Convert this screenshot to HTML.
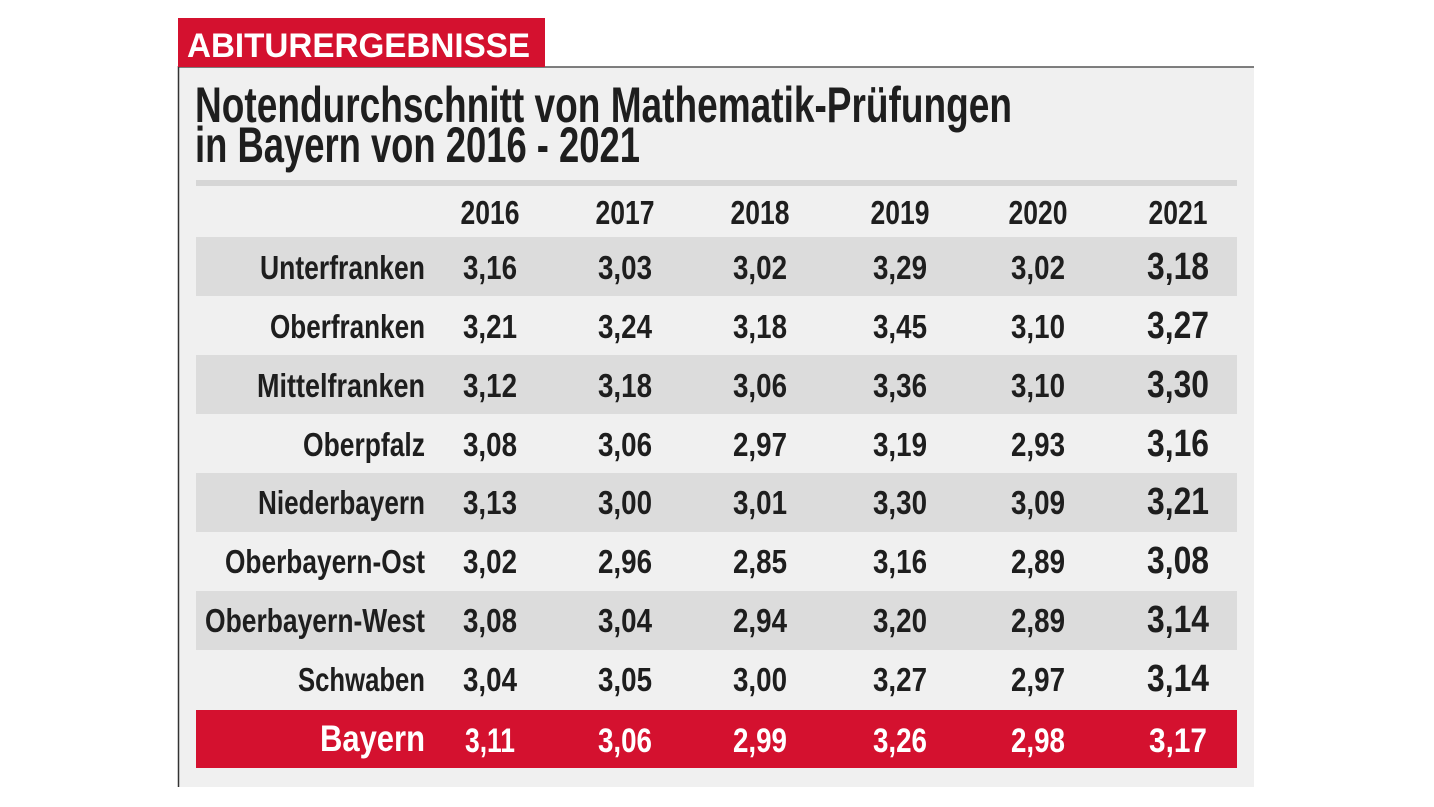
<!DOCTYPE html>
<html><head><meta charset="utf-8"><style>
html,body{margin:0;padding:0;background:#fff;}
svg{display:block;font-family:"Liberation Sans",sans-serif;font-weight:bold;}
</style></head><body>
<svg width="1434" height="807" viewBox="0 0 1434 807" xmlns="http://www.w3.org/2000/svg">
<rect x="178" y="67" width="1076" height="720" fill="#f0f0f0"/>
<line x1="178" y1="67" x2="1254" y2="67" stroke="#555" stroke-width="1.5"/>
<line x1="178.5" y1="66" x2="178.5" y2="787" stroke="#333" stroke-width="1.5"/>
<rect x="178" y="18" width="367" height="49" fill="#d4112f"/>
<text x="187" y="57" fill="#fff" font-size="34" textLength="343" lengthAdjust="spacingAndGlyphs">ABITURERGEBNISSE</text>
<g fill="#1e1e1e" font-size="50">
<text x="195" y="122" textLength="817" lengthAdjust="spacingAndGlyphs">Notendurchschnitt von Mathematik-Prüfungen</text>
<text x="195" y="162" textLength="445" lengthAdjust="spacingAndGlyphs">in Bayern von 2016 - 2021</text>
</g>
<rect x="196" y="180" width="1041" height="6" fill="#d6d6d6"/>
<g fill="#dcdcdc">
<rect x="196" y="237" width="1041" height="59"/>
<rect x="196" y="355" width="1041" height="59"/>
<rect x="196" y="473" width="1041" height="59"/>
<rect x="196" y="591" width="1041" height="59"/>
</g>
<rect x="196" y="710" width="1041" height="58" fill="#d4112f"/>
<g fill="#1e1e1e" font-size="33" text-anchor="middle">
<text x="490" y="224" textLength="59" lengthAdjust="spacingAndGlyphs">2016</text>
<text x="625" y="224" textLength="59" lengthAdjust="spacingAndGlyphs">2017</text>
<text x="760" y="224" textLength="59" lengthAdjust="spacingAndGlyphs">2018</text>
<text x="900" y="224" textLength="59" lengthAdjust="spacingAndGlyphs">2019</text>
<text x="1038" y="224" textLength="59" lengthAdjust="spacingAndGlyphs">2020</text>
<text x="1178" y="224" textLength="59" lengthAdjust="spacingAndGlyphs">2021</text>
</g>
<g fill="#1e1e1e" font-size="33" text-anchor="end">
<text x="425" y="279" textLength="165" lengthAdjust="spacingAndGlyphs">Unterfranken</text>
<text x="425" y="338" textLength="155" lengthAdjust="spacingAndGlyphs">Oberfranken</text>
<text x="425" y="397" textLength="168" lengthAdjust="spacingAndGlyphs">Mittelfranken</text>
<text x="425" y="456" textLength="122" lengthAdjust="spacingAndGlyphs">Oberpfalz</text>
<text x="425" y="514" textLength="167" lengthAdjust="spacingAndGlyphs">Niederbayern</text>
<text x="425" y="573" textLength="200" lengthAdjust="spacingAndGlyphs">Oberbayern-Ost</text>
<text x="425" y="632" textLength="220" lengthAdjust="spacingAndGlyphs">Oberbayern-West</text>
<text x="425" y="691" textLength="127" lengthAdjust="spacingAndGlyphs">Schwaben</text>
</g>
<text x="425" y="751" fill="#fff" font-size="37" text-anchor="end" textLength="105" lengthAdjust="spacingAndGlyphs">Bayern</text>
<g fill="#1e1e1e" font-size="33" text-anchor="middle">
<g transform="translate(0,279)"><text x="490" textLength="54" lengthAdjust="spacingAndGlyphs">3,16</text><text x="625" textLength="54" lengthAdjust="spacingAndGlyphs">3,03</text><text x="760" textLength="54" lengthAdjust="spacingAndGlyphs">3,02</text><text x="900" textLength="54" lengthAdjust="spacingAndGlyphs">3,29</text><text x="1038" textLength="54" lengthAdjust="spacingAndGlyphs">3,02</text><text x="1178" font-size="38" textLength="62" lengthAdjust="spacingAndGlyphs">3,18</text></g>
<g transform="translate(0,338)"><text x="490" textLength="54" lengthAdjust="spacingAndGlyphs">3,21</text><text x="625" textLength="54" lengthAdjust="spacingAndGlyphs">3,24</text><text x="760" textLength="54" lengthAdjust="spacingAndGlyphs">3,18</text><text x="900" textLength="54" lengthAdjust="spacingAndGlyphs">3,45</text><text x="1038" textLength="54" lengthAdjust="spacingAndGlyphs">3,10</text><text x="1178" font-size="38" textLength="62" lengthAdjust="spacingAndGlyphs">3,27</text></g>
<g transform="translate(0,397)"><text x="490" textLength="54" lengthAdjust="spacingAndGlyphs">3,12</text><text x="625" textLength="54" lengthAdjust="spacingAndGlyphs">3,18</text><text x="760" textLength="54" lengthAdjust="spacingAndGlyphs">3,06</text><text x="900" textLength="54" lengthAdjust="spacingAndGlyphs">3,36</text><text x="1038" textLength="54" lengthAdjust="spacingAndGlyphs">3,10</text><text x="1178" font-size="38" textLength="62" lengthAdjust="spacingAndGlyphs">3,30</text></g>
<g transform="translate(0,456)"><text x="490" textLength="54" lengthAdjust="spacingAndGlyphs">3,08</text><text x="625" textLength="54" lengthAdjust="spacingAndGlyphs">3,06</text><text x="760" textLength="54" lengthAdjust="spacingAndGlyphs">2,97</text><text x="900" textLength="54" lengthAdjust="spacingAndGlyphs">3,19</text><text x="1038" textLength="54" lengthAdjust="spacingAndGlyphs">2,93</text><text x="1178" font-size="38" textLength="62" lengthAdjust="spacingAndGlyphs">3,16</text></g>
<g transform="translate(0,514)"><text x="490" textLength="54" lengthAdjust="spacingAndGlyphs">3,13</text><text x="625" textLength="54" lengthAdjust="spacingAndGlyphs">3,00</text><text x="760" textLength="54" lengthAdjust="spacingAndGlyphs">3,01</text><text x="900" textLength="54" lengthAdjust="spacingAndGlyphs">3,30</text><text x="1038" textLength="54" lengthAdjust="spacingAndGlyphs">3,09</text><text x="1178" font-size="38" textLength="62" lengthAdjust="spacingAndGlyphs">3,21</text></g>
<g transform="translate(0,573)"><text x="490" textLength="54" lengthAdjust="spacingAndGlyphs">3,02</text><text x="625" textLength="54" lengthAdjust="spacingAndGlyphs">2,96</text><text x="760" textLength="54" lengthAdjust="spacingAndGlyphs">2,85</text><text x="900" textLength="54" lengthAdjust="spacingAndGlyphs">3,16</text><text x="1038" textLength="54" lengthAdjust="spacingAndGlyphs">2,89</text><text x="1178" font-size="38" textLength="62" lengthAdjust="spacingAndGlyphs">3,08</text></g>
<g transform="translate(0,632)"><text x="490" textLength="54" lengthAdjust="spacingAndGlyphs">3,08</text><text x="625" textLength="54" lengthAdjust="spacingAndGlyphs">3,04</text><text x="760" textLength="54" lengthAdjust="spacingAndGlyphs">2,94</text><text x="900" textLength="54" lengthAdjust="spacingAndGlyphs">3,20</text><text x="1038" textLength="54" lengthAdjust="spacingAndGlyphs">2,89</text><text x="1178" font-size="38" textLength="62" lengthAdjust="spacingAndGlyphs">3,14</text></g>
<g transform="translate(0,691)"><text x="490" textLength="54" lengthAdjust="spacingAndGlyphs">3,04</text><text x="625" textLength="54" lengthAdjust="spacingAndGlyphs">3,05</text><text x="760" textLength="54" lengthAdjust="spacingAndGlyphs">3,00</text><text x="900" textLength="54" lengthAdjust="spacingAndGlyphs">3,27</text><text x="1038" textLength="54" lengthAdjust="spacingAndGlyphs">2,97</text><text x="1178" font-size="38" textLength="62" lengthAdjust="spacingAndGlyphs">3,14</text></g>
<g transform="translate(0,752)" fill="#fff" font-size="34"><text x="490" textLength="50" lengthAdjust="spacingAndGlyphs">3,11</text><text x="625" textLength="54" lengthAdjust="spacingAndGlyphs">3,06</text><text x="760" textLength="54" lengthAdjust="spacingAndGlyphs">2,99</text><text x="900" textLength="54" lengthAdjust="spacingAndGlyphs">3,26</text><text x="1038" textLength="54" lengthAdjust="spacingAndGlyphs">2,98</text><text x="1178" textLength="58" lengthAdjust="spacingAndGlyphs">3,17</text></g>
</g>
</svg>
</body></html>
